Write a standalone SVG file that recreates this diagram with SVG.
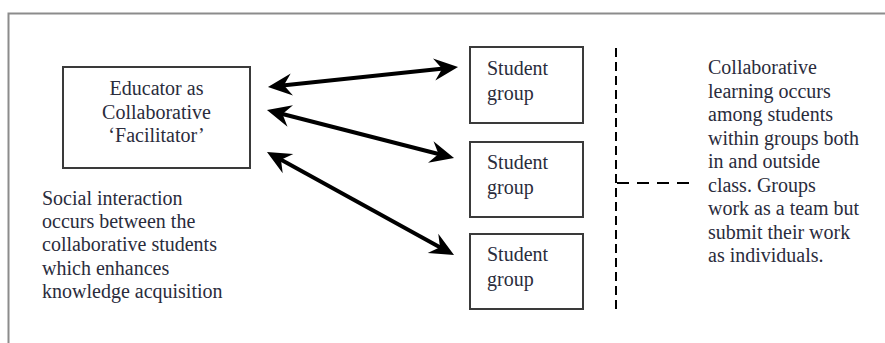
<svg xmlns="http://www.w3.org/2000/svg" width="885" height="343" viewBox="0 0 885 343">
<style>
.t{font-family:"Liberation Serif","Times New Roman",serif;font-size:20px;fill:#2a2c3c}
.box{fill:#fff;stroke:#3a3a3a;stroke-width:2}
.arr{fill:none;stroke:#000;stroke-width:4;marker-start:url(#ah);marker-end:url(#ah)}
.dash{fill:none;stroke:#000;stroke-width:2}
</style>
<defs>
<marker id="ah" viewBox="-25 -12 26 24" refX="-12" refY="0" markerWidth="26" markerHeight="24" markerUnits="userSpaceOnUse" orient="auto-start-reverse">
<path d="M0,0 L-24,-11 L-16,0 L-24,11 Z" fill="#000"/>
</marker>
</defs>
<rect width="885" height="343" fill="#fff"/>
<path d="M8.5,343 V13.5 H885" fill="none" stroke="#8c8c8c" stroke-width="2"/>
<g id="educator">
<rect class="box" x="63" y="67" width="187" height="101"/>
<text class="t" text-anchor="middle"><tspan x="156.5" y="95">Educator as</tspan><tspan x="156.5" y="118.5">Collaborative</tspan><tspan x="156.5" y="142">‘Facilitator’</tspan></text>
</g>
<g id="social-text">
<text class="t"><tspan x="42" y="205">Social interaction</tspan><tspan x="42" y="228.2">occurs between the</tspan><tspan x="42" y="251.4">collaborative students</tspan><tspan x="42" y="274.6">which enhances</tspan><tspan x="42" y="297.8">knowledge acquisition</tspan></text>
</g>
<g id="student1">
<rect class="box" x="470" y="47" width="113" height="76"/>
<text class="t"><tspan x="487" y="75">Student</tspan><tspan x="487" y="100">group</tspan></text>
</g>
<g id="student2">
<rect class="box" x="470" y="142" width="113" height="75"/>
<text class="t"><tspan x="487" y="169">Student</tspan><tspan x="487" y="194">group</tspan></text>
</g>
<g id="student3">
<rect class="box" x="470" y="234" width="113" height="75"/>
<text class="t"><tspan x="487" y="261">Student</tspan><tspan x="487" y="286">group</tspan></text>
</g>
<g id="collab-text">
<text class="t"><tspan x="708" y="74">Collaborative</tspan><tspan x="708" y="97.5">learning occurs</tspan><tspan x="708" y="121">among students</tspan><tspan x="708" y="144.5">within groups both</tspan><tspan x="708" y="168">in and outside</tspan><tspan x="708" y="191.5">class. Groups</tspan><tspan x="708" y="215">work as a team but</tspan><tspan x="708" y="238.5">submit their work</tspan><tspan x="708" y="262">as individuals.</tspan></text>
</g>
<g id="connectors">
<path class="arr" d="M279.9,85.7 L446.1,68.3"/>
<path class="arr" d="M278.6,113 L442.4,155"/>
<path class="arr" d="M277.5,157.8 L443.5,249.2"/>
<path class="dash" d="M616,48 V310" stroke-dasharray="9,5"/>
<path class="dash" d="M617,183 H692" stroke-dasharray="12,8"/>
</g>
</svg>
